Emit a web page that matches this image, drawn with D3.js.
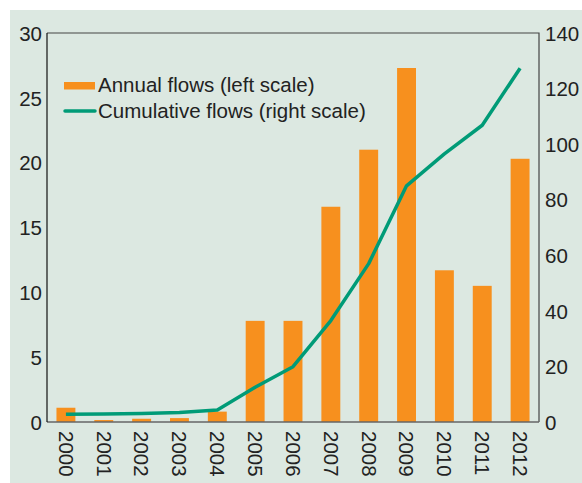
<!DOCTYPE html>
<html>
<head>
<meta charset="utf-8">
<script src="https://cdn.jsdelivr.net/npm/d3@7"></script>
<style>
  body { margin: 0; background: #fff; }
  svg { display: block; font-family: "Liberation Sans", Arial, sans-serif; }
</style>
</head>
<body>
<svg id="chart" width="582" height="483"></svg>
<script>
const years = ['2000','2001','2002','2003','2004','2005','2006','2007','2008','2009','2010','2011','2012'];
const annual = [1.1, 0.15, 0.25, 0.3, 0.8, 7.8, 7.8, 16.6, 21.0, 27.3, 11.7, 10.5, 20.3];
const cumulative = [2.8, 2.9, 3.1, 3.4, 4.3, 12.5, 19.9, 36.5, 57, 85, 96.5, 106.8, 127.3];
const leftTicks = [0, 5, 10, 15, 20, 25, 30];
const rightTicks = [0, 20, 40, 60, 80, 100, 120, 140];

const svg = d3.select('#chart');
const m = {left: 47, top: 33, right: 539, bottom: 422};
const fontSize = '20.5px';

svg.append('rect')
	.attr('x', 10).attr('y', 10)
	.attr('width', 572).attr('height', 473)
	.style('fill', '#dce8e1');

const x = d3.scaleBand().domain(years).range([m.left, m.right]).paddingInner(0.5).paddingOuter(0.25);
const yL = d3.scaleLinear().domain([0, 30]).range([m.bottom, m.top]);
const yR = d3.scaleLinear().domain([0, 140]).range([m.bottom, m.top]);

// bars
svg.append('g').selectAll('rect')
	.data(annual)
	.enter()
	.append('rect')
	.attr('x', (d, i) => x(years[i]))
	.attr('width', x.bandwidth())
	.attr('y', d => yL(d))
	.attr('height', d => yL(0) - yL(d))
	.style('fill', '#f7901e');

// frame
svg.append('path')
	.attr('d', `M${m.left},${m.top}H${m.right}V${m.bottom}`)
	.style('fill', 'none').style('stroke', '#444').style('stroke-width', 1.2);
svg.append('line')
	.attr('x1', m.left).attr('x2', m.right).attr('y1', m.bottom).attr('y2', m.bottom)
	.style('stroke', '#666').style('stroke-width', 1.5);
svg.append('line')
	.attr('x1', m.left).attr('x2', m.left).attr('y1', m.top).attr('y2', m.bottom)
	.style('stroke', '#111').style('stroke-width', 1.2);

// line
const line = d3.line()
	.x((d, i) => x(years[i]) + x.bandwidth() / 2)
	.y(d => yR(d));
svg.append('path')
	.datum(cumulative)
	.attr('d', line)
	.style('fill', 'none')
	.style('stroke', '#009b77')
	.style('stroke-width', 3.5)
	.style('stroke-linejoin', 'round');

// axes
const leftAxis = svg.append('g')
	.attr('transform', `translate(${m.left},0)`)
	.call(d3.axisLeft(yL).tickValues(leftTicks).tickSize(0).tickPadding(5));
const rightAxis = svg.append('g')
	.attr('transform', `translate(${m.right},0)`)
	.call(d3.axisRight(yR).tickValues(rightTicks).tickSize(0).tickPadding(6));
const bottomAxis = svg.append('g')
	.attr('transform', `translate(0,${m.bottom})`)
	.call(d3.axisBottom(x).tickSize(0).tickPadding(0));

[leftAxis, rightAxis, bottomAxis].forEach(a => {
	a.select('.domain').remove();
	a.selectAll('text')
		.style('font-family', '"Liberation Sans", Arial, sans-serif')
		.style('font-size', fontSize)
		.style('fill', '#222');
});
leftAxis.selectAll('text').attr('dy', '0.35em');
rightAxis.selectAll('text').attr('dy', '0.35em');
bottomAxis.selectAll('text')
	.attr('transform', 'rotate(90)')
	.attr('x', 9)
	.attr('y', 0)
	.attr('dy', '0.35em')
	.style('text-anchor', 'start');

// legend
const legend = svg.append('g');
legend.append('rect')
	.attr('x', 64).attr('y', 82).attr('width', 31).attr('height', 7.5)
	.style('fill', '#f7901e');
legend.append('line')
	.attr('x1', 65).attr('x2', 95).attr('y1', 111).attr('y2', 111)
	.style('stroke', '#009b77').style('stroke-width', 3.5).style('stroke-linecap', 'round');
legend.append('text')
	.attr('x', 98).attr('y', 92)
	.text('Annual flows (left scale)')
	.style('font-size', fontSize).style('fill', '#222');
legend.append('text')
	.attr('x', 98).attr('y', 117.5)
	.text('Cumulative flows (right scale)')
	.style('font-size', fontSize).style('fill', '#222');
</script>
</body>
</html>
